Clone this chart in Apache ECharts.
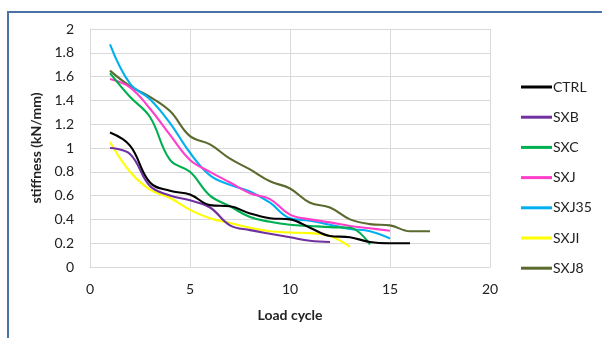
<!DOCTYPE html>
<html>
<head>
<meta charset="utf-8">
<script src="https://cdn.jsdelivr.net/npm/echarts@6/dist/echarts.min.js"></script>
<style>
html,body{margin:0;padding:0;background:#fff;}
#chart{width:602px;height:338px;}
</style>
</head>
<body>
<div id="chart"></div>
<script>
const seriesNames = ['CTRL', 'SXB', 'SXC', 'SXJ', 'SXJ35', 'SXJI', 'SXJ8'];
const CTRL  = [1.13, 1.02, 0.71, 0.64, 0.61, 0.52, 0.51, 0.45, 0.41, 0.40, 0.33, 0.26, 0.25, 0.21, 0.20, 0.20];
const SXB   = [1.00, 0.95, 0.68, 0.60, 0.56, 0.50, 0.35, 0.31, 0.28, 0.25, 0.22, 0.21];
const SXC   = [1.63, 1.43, 1.26, 0.90, 0.80, 0.60, 0.51, 0.42, 0.38, 0.355, 0.345, 0.335, 0.33, 0.19];
const SXJ   = [1.58, 1.51, 1.33, 1.11, 0.90, 0.80, 0.71, 0.62, 0.57, 0.44, 0.40, 0.375, 0.345, 0.325, 0.305];
const SXJ35 = [1.87, 1.54, 1.41, 1.21, 0.96, 0.77, 0.69, 0.635, 0.54, 0.41, 0.39, 0.355, 0.32, 0.30, 0.24];
const SXJI  = [1.05, 0.80, 0.65, 0.58, 0.48, 0.41, 0.37, 0.33, 0.30, 0.29, 0.285, 0.26, 0.17];
const SXJ8  = [1.65, 1.52, 1.43, 1.31, 1.10, 1.03, 0.91, 0.82, 0.72, 0.66, 0.54, 0.50, 0.40, 0.36, 0.35, 0.30, 0.30];
const seriesValues = [CTRL, SXB, SXC, SXJ, SXJ35, SXJI, SXJ8];
const colors = ['#000000', '#7030A0', '#00B050', '#FF3FCC', '#00B0F0', '#FFFF00', '#5B6B2F'];

const FONT = 'Lato';
const chart = echarts.init(document.getElementById('chart'), null, {renderer: 'canvas'});

const series = seriesNames.map((name, i) => ({
  name: name,
  type: 'line',
  data: seriesValues[i].map((v, k) => [k + 1, v]),
  smooth: 0.4,
  showSymbol: false,
  symbol: 'none',
  lineStyle: {color: colors[i], width: 2.1},
  itemStyle: {color: colors[i]},
  z: 10 - i
}));

chart.setOption({
  animation: false,
  backgroundColor: '#ffffff',
  textStyle: {fontFamily: FONT},
  graphic: [
    {type: 'line', shape: {x1: 7, y1: 12, x2: 602, y2: 12}, style: {stroke: '#4A72A6', lineWidth: 2}},
    {type: 'line', shape: {x1: 8, y1: 11, x2: 8, y2: 338}, style: {stroke: '#4A72A6', lineWidth: 2}}
  ],
  grid: {left: 90, top: 29, right: 112, bottom: 71, containLabel: false},
  legend: {
    orient: 'vertical',
    left: 521,
    top: 80,
    padding: 0,
    itemWidth: 31,
    itemHeight: 3,
    itemGap: 16.2,
    icon: 'rect',
    data: seriesNames,
    textStyle: {fontFamily: FONT, fontSize: 14, color: '#222', lineHeight: 14, padding: [0, 0, 0, -4]}
  },
  xAxis: {
    type: 'value',
    min: 0, max: 20, interval: 5,
    name: 'Load cycle',
    nameLocation: 'middle',
    nameGap: 41,
    nameTextStyle: {fontFamily: FONT, fontSize: 14, fontWeight: 'bold', color: '#222'},
    axisLine: {show: true, lineStyle: {color: '#d9d9d9'}},
    axisTick: {show: false},
    axisLabel: {fontFamily: FONT, fontSize: 14, color: '#222', margin: 15},
    splitLine: {show: true, lineStyle: {color: '#d9d9d9', width: 1}}
  },
  yAxis: {
    type: 'value',
    min: 0, max: 2, interval: 0.2,
    name: 'stiffness (kN/mm)',
    nameLocation: 'middle',
    nameGap: 46,
    nameTextStyle: {fontFamily: FONT, fontSize: 14, fontWeight: 'bold', color: '#222'},
    axisLine: {show: true, lineStyle: {color: '#d9d9d9'}},
    axisTick: {show: false},
    axisLabel: {fontFamily: FONT, fontSize: 14, color: '#222', margin: 16},
    splitLine: {show: true, lineStyle: {color: '#d9d9d9', width: 1}}
  },
  series: series
});
</script>
</body>
</html>
